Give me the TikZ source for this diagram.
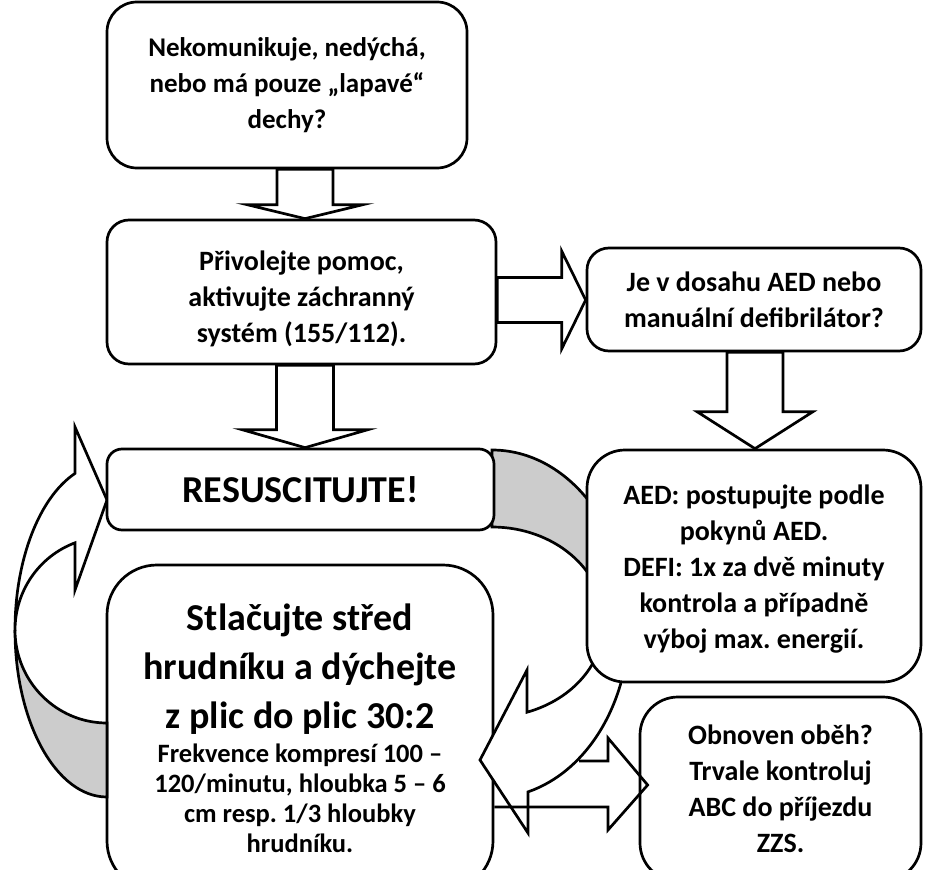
\documentclass[tikz,border=0pt]{standalone}
\usepackage{fontspec}
\setmainfont{Carlito}
\usetikzlibrary{calc}
\frenchspacing

\tikzstyle{box}=[draw,line width=2.7pt,fill=white,align=center,inner sep=0pt,font=\fontsize{28}{36}\selectfont\bfseries]
\tikzstyle{blockarrow}=[draw,line width=2.7pt,fill=white]
\tikzstyle{front}=[draw,line width=2.7pt,fill=white]
\tikzstyle{back}=[draw,line width=2.7pt,fill=black!20]
\tikzstyle{edge}=[draw,line width=2.7pt]

% #1 from, #2 to, #3 half shaft, #4 half head, #5 head length
\newcommand{\downblock}[5]{%
  \path[blockarrow] let \p1=#1, \p2=#2 in
    (\x1-#3pt,\y1) -- (\x1-#3pt,\y2+#5pt) -- (\x1-#4pt,\y2+#5pt) -- (\x1,\y2)
    -- (\x1+#4pt,\y2+#5pt) -- (\x1+#3pt,\y2+#5pt) -- (\x1+#3pt,\y1) -- cycle;}
\newcommand{\rightblock}[5]{%
  \path[blockarrow] let \p1=#1, \p2=#2 in
    (\x1,\y1+#3pt) -- (\x2-#5pt,\y1+#3pt) -- (\x2-#5pt,\y1+#4pt) -- (\x2,\y1)
    -- (\x2-#5pt,\y1-#4pt) -- (\x2-#5pt,\y1-#3pt) -- (\x1,\y1-#3pt) -- cycle;}

\begin{document}
\begin{tikzpicture}[x=1pt, y=-1pt]
    \useasboundingbox (0,0) rectangle (932,870);
    \coordinate (axisL) at (305,0);
    \coordinate (axisR) at (755,0);
    \coordinate (axisB) at (0,300);
    % First the boxes
    \node[box, minimum width=360, minimum height=166, rounded corners=30,
          font=\fontsize{27}{36}\selectfont\bfseries] (q1) at (287,85)
        {Nekomunikuje, nedýchá,\\ nebo má pouze „lapavé“\\ dechy?};
    \node[box, minimum width=389, minimum height=144, rounded corners=22] (call) at (301.5,292)
        {\parbox{380pt}{\centering\vspace*{14pt}Přivolejte pomoc,\\ aktivujte záchranný\\ systém (155/112).}};
    \node[box, minimum width=334, minimum height=103, rounded corners=22] (ask) at (754,299.5)
        {Je v dosahu AED nebo\\ manuální defibrilátor?};
    \node[box, minimum width=386, minimum height=326, rounded corners=50] (cpr) at (300,728)
        {\parbox{380pt}{\centering
         {\fontsize{38}{49}\selectfont Stlačujte střed\\ hrudníku a dýchejte\\ z plic do plic 30:2\par}
         \vspace{4pt}
         {\fontsize{26.5}{30}\selectfont Frekvence kompresí 100 –\\ 120/minutu, hloubka 5 – 6\\ cm resp. 1/3 hloubky\\ hrudníku.\par}}};
    \node[box, minimum width=281, minimum height=184, rounded corners=38] (rosc) at (780.5,789)
        {Obnoven oběh?\\ Trvale kontroluj\\ ABC do příjezdu\\ ZZS.};

    % Curved arrow back to the start of the loop
    \draw[back] (15,630) arc[start angle=180, end angle=90, x radius=92, y radius=167]
        -- (107,723) arc[start angle=90, end angle=180, x radius=92, y radius=93] -- cycle;
    \draw[front] (15,630) arc[start angle=180, end angle=249.63, x radius=92, y radius=167]
        -- (75,427) -- (107,500) -- (75,590) -- (75,542.8)
        arc[start angle=249.63, end angle=180, x radius=92, y radius=93] -- cycle;

    % Curved arrow from the defibrillator back to compressions
    \draw[back] (492,450) arc[start angle=-90, end angle=0, x radius=137, y radius=174]
        -- (604,622) arc[start angle=0, end angle=-90, x radius=112, y radius=95] -- cycle;
    \draw[front] (629,624) arc[start angle=0, end angle=74.77, x radius=137, y radius=174]
        -- (528,833) -- (480,760) -- (527,670) -- (527,712.2)
        arc[start angle=71.79, end angle=0, x radius=112, y radius=95] -- cycle;

    \node[box, minimum width=387, minimum height=81, rounded corners=15,
          font=\fontsize{38}{45}\selectfont\bfseries] (resus) at (300.5,489.5) {RESUSCITUJTE!};
    \node[box, minimum width=334, minimum height=232, rounded corners=38] (defi) at (754,566)
        {\parbox{330pt}{\centering\vspace*{7pt}AED: postupujte podle\\ pokynů AED.\\ DEFI: 1x za dvě minuty\\ kontrola a případně\\ výboj max. energií.}};

    % Straight arrows between the boxes
    \draw[edge] (579,761) -- (608,761) -- (608,738) -- ($(rosc.west)+(9,-4)$)
        -- (608,830) -- (608,807) -- (cpr.east |- 0,807);
    \downblock{(q1.south -| axisL)}{(call.north -| axisL)}{28}{58}{14}
    \downblock{(call.south -| axisL)}{(resus.north -| axisL)}{28.5}{63}{18}
    \downblock{(ask.south -| axisR)}{(defi.north -| axisR)}{28}{58}{37}
    \rightblock{(call.east |- axisB)}{(ask.west |- axisB)}{22.5}{49}{24}
\end{tikzpicture}
\end{document}
